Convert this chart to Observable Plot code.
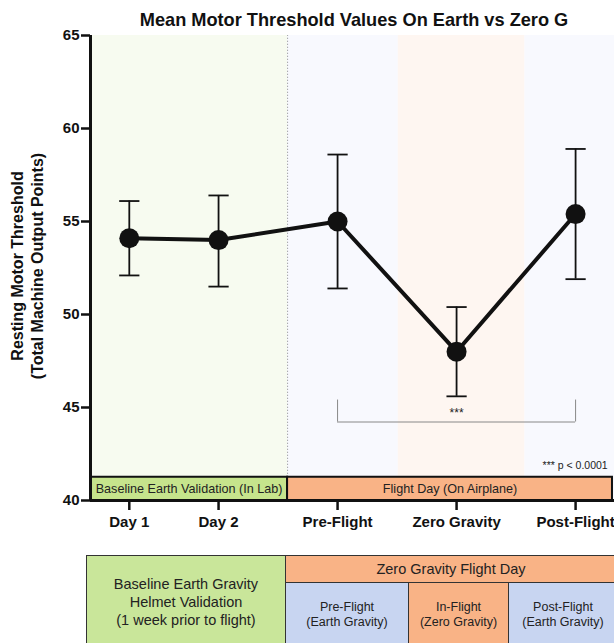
<!DOCTYPE html>
<html>
<head>
<meta charset="utf-8">
<script src="https://cdn.jsdelivr.net/npm/d3@7"></script>
<script src="https://cdn.jsdelivr.net/npm/@observablehq/plot@0.6"></script>
<style>
  body { margin: 0; background: #fff; }
  #wrap { position: relative; width: 614px; height: 643px; overflow: hidden; background: #fff;
          font-family: "Liberation Sans", Arial, Helvetica, sans-serif; color: #111; }
  #chart { position: absolute; left: 0; top: 0; }
  #title { position: absolute; left: 0; top: 9px; width: 708px; text-align: center;
           font-weight: bold; font-size: 18.2px; line-height: 22px; white-space: nowrap; }
  #ylabel { position: absolute; left: 28px; top: 266px; width: 340px; text-align: center;
            font-weight: bold; font-size: 16px; line-height: 20px;
            transform: translate(-50%, -50%) rotate(-90deg); white-space: nowrap; }
  .cell { position: absolute; box-sizing: border-box; border: 1.5px solid #333;
          display: flex; align-items: center; justify-content: center; text-align: center; color: #222; }
</style>
</head>
<body>
<div id="wrap">
  <div id="chart"></div>
  <div id="title"></div>
  <div id="ylabel"></div>
  <div id="table"></div>
</div>
<script>
// ---- data ----
const categories = ["Day 1", "Day 2", "Pre-Flight", "Zero Gravity", "Post-Flight"];
const means = [54.1, 54.0, 55.0, 48.0, 55.4];
const upper = [56.1, 56.4, 58.6, 50.4, 58.9];
const lower = [52.1, 51.5, 51.4, 45.6, 51.9];
const yTicks = [40, 45, 50, 55, 60, 65];
const phaseLabels = ["Baseline Earth Validation (In Lab)", "Flight Day (On Airplane)"];
const titleText = "Mean Motor Threshold Values On Earth vs Zero G";
const yLabelLines = ["Resting Motor Threshold", "(Total Machine Output Points)"];
const sigLabel = "***";
const pNote = "*** p < 0.0001";
const tableHeader = "Zero Gravity Flight Day";
const tableBaseline = ["Baseline Earth Gravity", "Helmet Validation", "(1 week prior to flight)"];
const tableSubs = [["Pre-Flight", "(Earth Gravity)"], ["In-Flight", "(Zero Gravity)"], ["Post-Flight", "(Earth Gravity)"]];

// ---- layout (category slots on the x axis, in slot units) ----
const slot = [1.25, 2, 3, 4, 5];
const xDomain = [0.924, 5.327];
const divider = 2.58;
const phaseSpans = [[xDomain[0], divider], [divider, 5.31]];
const zoneSpans = [[xDomain[0], divider, "#f7fbf0"], [divider, 3.51, "#f8f9fe"], [3.51, 4.575, "#fef6f1"], [4.575, xDomain[1], "#f8f9fe"]];
const barTop = 41.25;
const cap = 0.085;

const rows = categories.map((c, i) => ({cat: c, x: slot[i], mean: means[i], hi: upper[i], lo: lower[i]}));
const phases = phaseLabels.map((l, i) => ({label: l, x1: phaseSpans[i][0], x2: phaseSpans[i][1], fill: i === 0 ? "#c6e48c" : "#f9b386"}));
const zones = zoneSpans.map(([a, b, c]) => ({x1: a, x2: b, fill: c}));

const plot = Plot.plot({
  width: 614,
  height: 540,
  marginLeft: 90,
  marginRight: 0,
  marginTop: 35,
  marginBottom: 40,
  style: {fontFamily: "'Liberation Sans', Arial, Helvetica, sans-serif", fontSize: "14px", background: "transparent", overflow: "visible", color: "#111"},
  x: {type: "linear", domain: xDomain},
  y: {domain: [40, 65]},
  marks: [
    Plot.rect(zones, {x1: "x1", x2: "x2", y1: 40, y2: 65, fill: "fill"}),
    Plot.ruleX([divider], {y1: barTop, y2: 65, stroke: "#888", strokeWidth: 1, strokeDasharray: "1,2"}),
    Plot.rect(phases, {x1: "x1", x2: "x2", y1: 40, y2: barTop, fill: "fill", stroke: "#111", strokeWidth: 2}),
    Plot.text(phases, {x: d => (d.x1 + d.x2) / 2, y: (40 + barTop) / 2, text: "label", fontSize: 12.6, fill: "#222"}),
    // significance bracket
    Plot.ruleY([44.22], {x1: slot[2], x2: slot[4], stroke: "#888", strokeWidth: 1}),
    Plot.ruleX([slot[2], slot[4]], {y1: 44.22, y2: 45.4, stroke: "#888", strokeWidth: 1}),
    Plot.text([sigLabel], {x: slot[3], y: 44.72, text: d => d, fontSize: 12, fill: "#222"}),
    Plot.text([pNote], {x: 5.27, y: 41.9, text: d => d, fontSize: 10.5, textAnchor: "end", fill: "#222"}),
    // error bars
    Plot.ruleX(rows, {x: "x", y1: "lo", y2: "hi", stroke: "#111", strokeWidth: 1.8}),
    Plot.link(rows, {x1: d => d.x - cap, x2: d => d.x + cap, y1: "hi", y2: "hi", stroke: "#111", strokeWidth: 1.8}),
    Plot.link(rows, {x1: d => d.x - cap, x2: d => d.x + cap, y1: "lo", y2: "lo", stroke: "#111", strokeWidth: 1.8}),
    Plot.line(rows, {x: "x", y: "mean", stroke: "#111", strokeWidth: 4}),
    Plot.dot(rows, {x: "x", y: "mean", r: 10, fill: "#111", stroke: "none"}),
    // axes
    Plot.axisY({ticks: yTicks, tickSize: 9, tickPadding: 2, fontWeight: "bold", fontSize: 15, strokeWidth: 2.5, label: null}),
    Plot.axisX({ticks: slot, tickFormat: v => categories[slot.indexOf(v)], tickSize: 10, tickPadding: 6, fontWeight: "bold", fontSize: 15, strokeWidth: 2.5, label: null}),
    Plot.ruleY([40], {stroke: "#111", strokeWidth: 3}),
    Plot.ruleX([xDomain[0]], {y1: 40, y2: 65, stroke: "#111", strokeWidth: 3})
  ]
});
document.getElementById("chart").appendChild(plot);
document.getElementById("title").textContent = titleText;
document.getElementById("ylabel").innerHTML = yLabelLines.join("<br>");

// ---- bottom table ----
const table = document.getElementById("table");
function cell(left, top, w, h, bg, html, fs, lh) {
  const d = document.createElement("div");
  d.className = "cell";
  Object.assign(d.style, {left: left + "px", top: top + "px", width: w + "px", height: h + "px", background: bg, fontSize: fs + "px", lineHeight: lh + "px"});
  d.innerHTML = html;
  table.appendChild(d);
}
cell(86, 555, 200, 110, "#c9e69a", "<div style='margin-top:-16px'>" + tableBaseline.join("<br>") + "</div>", 14.5, 18);
cell(285, 555, 332, 28, "#f9b386", tableHeader, 14.5, 18);
cell(285, 582, 124, 80, "#c8d5f1", "<div style='margin-top:-15px'>" + tableSubs[0].join("<br>") + "</div>", 12.5, 15);
cell(408, 582, 101, 80, "#f9b386", "<div style='margin-top:-15px'>" + tableSubs[1].join("<br>") + "</div>", 12.5, 15);
cell(508, 582, 140, 80, "#c8d5f1", "<div style='margin-top:-15px;margin-right:30px'>" + tableSubs[2].join("<br>") + "</div>", 12.5, 15);
</script>
</body>
</html>
